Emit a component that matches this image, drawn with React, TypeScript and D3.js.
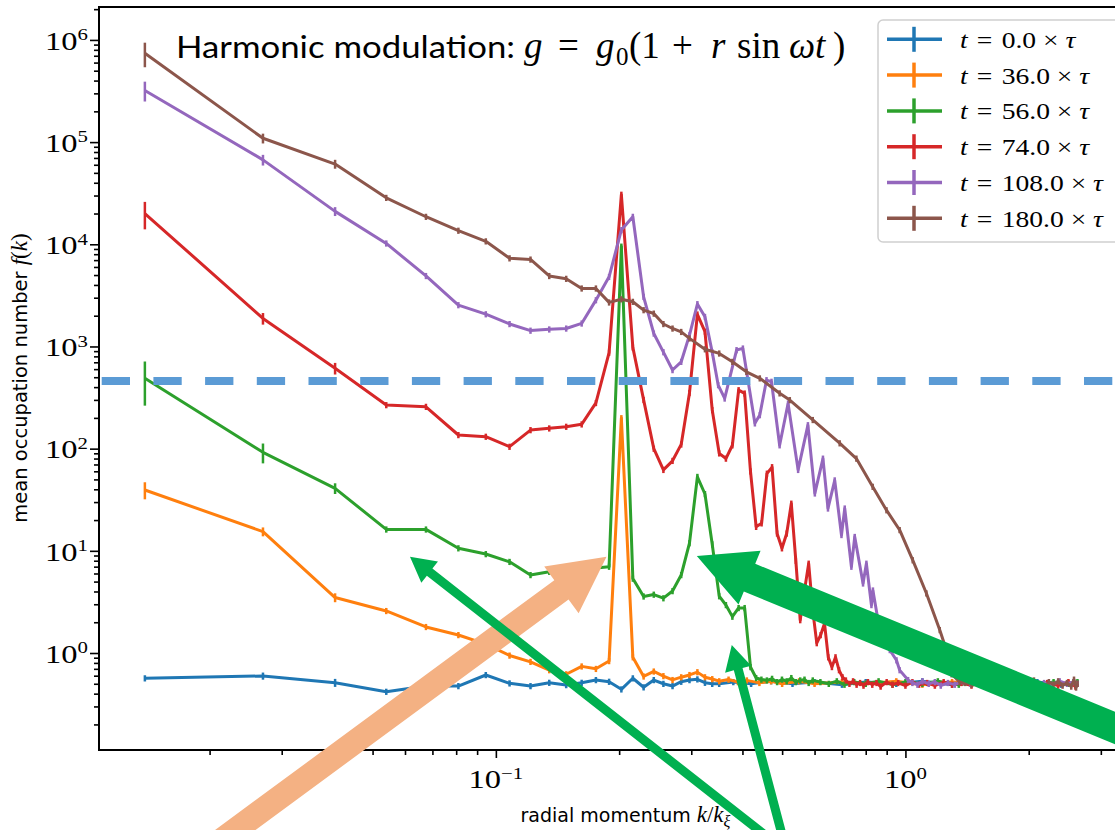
import React, { useEffect, useRef } from 'react';
import * as d3 from 'd3';

// occupation number f(k) vs radial momentum k, log-log
type Pt = [number, number];

const fT0: Pt[] = [
  [0.0139, 0.566], [0.027, 0.596], [0.0405, 0.512], [0.054, 0.418], [0.0675, 0.475], [0.081, 0.475],
  [0.0945, 0.609], [0.108, 0.505], [0.1215, 0.475], [0.135, 0.512], [0.1485, 0.486], [0.162, 0.512],
  [0.1755, 0.544], [0.189, 0.524], [0.2025, 0.441], [0.216, 0.566], [0.2295, 0.462], [0.243, 0.544],
  [0.2565, 0.5], [0.27, 0.475], [0.2835, 0.524], [0.297, 0.544], [0.3105, 0.553], [0.324, 0.512],
  [0.3375, 0.5], [0.351, 0.5], [0.38, 0.52], [0.42, 0.5], [0.47, 0.53], [0.53, 0.5], [0.6, 0.52],
  [0.7, 0.49], [0.8, 0.52], [0.95, 0.5], [1.1, 0.53], [1.3, 0.49], [1.5, 0.52], [1.8, 0.5],
  [2.1, 0.52], [2.4, 0.49], [2.63, 0.51],
];
const fT36: Pt[] = [
  [0.0139, 39.4], [0.027, 15.4], [0.0405, 3.49], [0.054, 2.58], [0.0675, 1.8], [0.081, 1.5],
  [0.0945, 1.22], [0.108, 0.945], [0.1215, 0.82], [0.135, 0.68], [0.1485, 0.62], [0.162, 0.74],
  [0.1755, 0.7], [0.189, 0.835], [0.2025, 199], [0.216, 0.91], [0.2295, 0.59], [0.243, 0.66],
  [0.2565, 0.595], [0.27, 0.545], [0.2835, 0.58], [0.297, 0.61], [0.3105, 0.65], [0.324, 0.58],
  [0.3375, 0.556], [0.351, 0.53], [0.37, 0.55], [0.39, 0.52], [0.41, 0.54], [0.44, 0.51],
  [0.47, 0.53], [0.5, 0.5], [0.55, 0.53], [0.6, 0.5], [0.7, 0.52], [0.8, 0.5], [0.95, 0.53],
  [1.1, 0.49], [1.3, 0.52], [1.6, 0.5], [1.9, 0.52], [2.2, 0.49], [2.5, 0.51], [2.63, 0.5],
];
const fT56: Pt[] = [
  [0.0139, 488], [0.027, 92], [0.0405, 40.9], [0.054, 16.2], [0.0675, 16.2], [0.081, 10.6],
  [0.0945, 9.3], [0.108, 7.8], [0.1215, 5.8], [0.135, 6.25], [0.1485, 6.5], [0.162, 6.7],
  [0.1755, 6.8], [0.189, 7.0], [0.2025, 9500], [0.216, 5.35], [0.2295, 3.58], [0.243, 3.73],
  [0.2565, 3.44], [0.27, 4.04], [0.2835, 5.8], [0.297, 11.9], [0.3105, 53], [0.324, 36],
  [0.3375, 11.6], [0.351, 3.6], [0.3645, 2.95], [0.378, 2.27], [0.3915, 2.76], [0.405, 2.76],
  [0.4185, 0.73], [0.432, 0.57], [0.445, 0.55], [0.459, 0.54], [0.4725, 0.56], [0.486, 0.52],
  [0.4995, 0.55], [0.513, 0.53], [0.5265, 0.57], [0.54, 0.52], [0.5535, 0.54], [0.567, 0.55],
  [0.5805, 0.51], [0.594, 0.54], [0.62, 0.52], [0.65, 0.5], [0.68, 0.53], [0.71, 0.49],
  [0.75, 0.52], [0.8, 0.5], [0.86, 0.53], [0.93, 0.49], [1.0, 0.52], [1.1, 0.5], [1.2, 0.53],
  [1.35, 0.49], [1.5, 0.52], [1.7, 0.5], [1.9, 0.53], [2.1, 0.49], [2.3, 0.52], [2.5, 0.5], [2.63, 0.52],
];
const fT74: Pt[] = [
  [0.0139, 20000], [0.027, 1880], [0.0405, 611], [0.054, 267], [0.0675, 257], [0.081, 136],
  [0.0945, 131], [0.108, 104.5], [0.1215, 152], [0.135, 158], [0.1485, 164], [0.162, 173],
  [0.1755, 280], [0.189, 870], [0.2025, 30600], [0.216, 980], [0.2295, 300], [0.243, 100],
  [0.2565, 62], [0.27, 76], [0.2835, 110], [0.297, 351], [0.3105, 2060], [0.324, 1400],
  [0.3375, 239], [0.351, 90], [0.3645, 80], [0.378, 108], [0.3915, 374], [0.405, 347],
  [0.4185, 60], [0.432, 17.2], [0.4455, 18.6], [0.459, 57], [0.4725, 66], [0.486, 14.8],
  [0.4995, 10.6], [0.513, 14.8], [0.5265, 29], [0.54, 8], [0.5535, 2.1], [0.567, 4.1],
  [0.5805, 7.5], [0.594, 2.6], [0.6075, 1.25], [0.621, 1.5], [0.6345, 1.95], [0.648, 0.91],
  [0.6615, 0.73], [0.675, 0.91], [0.6885, 0.68], [0.702, 0.58], [0.7155, 0.54],
  [0.73, 0.5], [0.745, 0.53], [0.76, 0.49], [0.775, 0.51], [0.79, 0.48], [0.81, 0.52], [0.83, 0.49],
  [0.85, 0.51], [0.87, 0.47], [0.9, 0.52], [0.93, 0.49], [0.96, 0.51], [1.0, 0.48], [1.04, 0.52],
  [1.08, 0.49], [1.13, 0.51], [1.18, 0.48], [1.24, 0.52], [1.3, 0.49], [1.37, 0.51], [1.45, 0.48],
  [1.53, 0.52], [1.62, 0.49], [1.72, 0.51], [1.83, 0.48], [1.95, 0.52], [2.08, 0.49], [2.22, 0.51],
  [2.36, 0.48], [2.5, 0.52], [2.6, 0.47], [2.63, 0.5],
];
const fT108: Pt[] = [
  [0.0139, 320000], [0.027, 67000], [0.0405, 21000], [0.054, 10200], [0.0675, 4900], [0.081, 2540],
  [0.0945, 2070], [0.108, 1660], [0.1215, 1430], [0.135, 1470], [0.1485, 1500], [0.162, 1680],
  [0.1755, 2840], [0.189, 4800], [0.2025, 13800], [0.216, 18600], [0.2295, 3060], [0.243, 1340],
  [0.2565, 881], [0.27, 588], [0.2835, 708], [0.297, 1290], [0.3105, 2600], [0.324, 1950],
  [0.3375, 880], [0.349, 419], [0.362, 310], [0.387, 922], [0.401, 957], [0.429, 177],
  [0.441, 213], [0.458, 469], [0.471, 452], [0.493, 108], [0.517, 277], [0.547, 62],
  [0.578, 170], [0.601, 36.5], [0.629, 80], [0.647, 26], [0.672, 49], [0.698, 14.3],
  [0.711, 26], [0.738, 7.0], [0.752, 13.7], [0.788, 4.8], [0.803, 7.5], [0.826, 2.95],
  [0.833, 4.1], [0.857, 2.1], [0.874, 2.1], [0.916, 1.07], [0.951, 0.85], [0.968, 0.68],
  [1.015, 0.545], [1.04, 0.51], [1.07, 0.49], [1.1, 0.53], [1.14, 0.5], [1.18, 0.52], [1.22, 0.48],
  [1.27, 0.51], [1.32, 0.49], [1.38, 0.53], [1.44, 0.5], [1.5, 0.52], [1.57, 0.48], [1.64, 0.51],
  [1.72, 0.49], [1.8, 0.53], [1.89, 0.5], [1.98, 0.52], [2.08, 0.48], [2.18, 0.51], [2.28, 0.49],
  [2.38, 0.53], [2.48, 0.5], [2.57, 0.52], [2.63, 0.5],
];
const fT180: Pt[] = [
  [0.0139, 740000], [0.027, 109000], [0.0405, 61000], [0.054, 28500], [0.0675, 18600], [0.081, 13600],
  [0.0945, 10700], [0.108, 7300], [0.1215, 7100], [0.135, 4900], [0.1485, 4600], [0.162, 3700],
  [0.1755, 3700], [0.189, 2700], [0.2025, 2900], [0.216, 2740], [0.2295, 2270], [0.243, 2100],
  [0.2565, 1660], [0.27, 1500], [0.2835, 1390], [0.297, 1200], [0.324, 940], [0.351, 855],
  [0.378, 708], [0.409, 565], [0.441, 488], [0.493, 348], [0.522, 299], [0.594, 191],
  [0.691, 113], [0.759, 80], [0.832, 42.4], [0.899, 25], [0.968, 16], [1.042, 8.1],
  [1.125, 3.84], [1.213, 1.68], [1.259, 1.07], [1.297, 0.62], [1.357, 0.52],
  [1.4, 0.51], [1.45, 0.49], [1.5, 0.53], [1.55, 0.5], [1.6, 0.48], [1.65, 0.52], [1.7, 0.5],
  [1.76, 0.47], [1.82, 0.53], [1.88, 0.49], [1.94, 0.51], [2.0, 0.48], [2.06, 0.54], [2.12, 0.5],
  [2.18, 0.47], [2.24, 0.52], [2.3, 0.49], [2.36, 0.53], [2.42, 0.48], [2.48, 0.51], [2.54, 0.47],
  [2.58, 0.55], [2.61, 0.46], [2.63, 0.5],
];

// relative error of the first points; the rest use DEFAULT_SIG
const DEFAULT_SIG = 0.07;
const sigT0 = [0.07, 0.08, 0.09];
const sigT36 = [0.19, 0.1, 0.1];
const sigT56 = [0.46, 0.22, 0.12];
const sigT74 = [0.3, 0.13, 0.13];
const sigT108 = [0.22, 0.12, 0.1];
const sigT180 = [0.27, 0.11, 0.1];

const labels = ['0.0', '36.0', '56.0', '74.0', '108.0', '180.0'];
const colors = ['#1f77b4', '#ff7f0e', '#2ca02c', '#d62728', '#9467bd', '#8c564b'];
const curves = [fT0, fT36, fT56, fT74, fT108, fT180];
const sigs = [sigT0, sigT36, sigT56, sigT74, sigT108, sigT180];

const thresholdLevel = 460; // dashed horizontal line

// arrows in data coordinates: tail -> tip
const arrows = [
  { tail: [0.0206, 0.0132], tip: [0.1863, 8.76], shaft: 24, headW: 58, headL: 56, color: '#f4b183' },
  { tail: [0.488, 0.0132], tip: [0.0617, 8.76], shaft: 9, headW: 27, headL: 25, color: '#00b050' },
  { tail: [0.5075, 0.0132], tip: [0.3767, 1.197], shaft: 9, headW: 27, headL: 25, color: '#00b050' },
  { tail: [3.73, 0.147], tip: [0.3095, 8.9], shaft: 30, headW: 58, headL: 57, color: '#00b050' },
];

// title formula pieces: [text, x, italic, size, dy]
const formula: [string, number, boolean, number, number][] = [
  ['g', 524, true, 37, 0], ['=', 558, false, 37, 0], ['g', 596, true, 37, 0], ['0', 616, false, 25, 7],
  ['(1', 629, false, 37, 0], ['+', 672, false, 37, 0], ['r', 711, true, 37, 0], ['sin', 737, false, 37, 0],
  ['\u03c9t', 789, true, 37, 0], [')', 833, false, 37, 0],
];

const serif = "'Liberation Serif', 'DejaVu Serif', serif";
const sans = "'DejaVu Sans', sans-serif";

export default function App() {
  const svgRef = useRef<SVGSVGElement>(null);

  useEffect(() => {
    document.body.style.margin = '0';
    const svg = d3.select(svgRef.current);
    svg.selectAll('*').remove();

    const left = 99, top = 7, bottom = 750, right = 1152;
    const x = d3.scaleLog().domain([0.01074, 4]).range([left, right]);
    const y = d3.scaleLog().domain([0.1124, 2.1e6]).range([bottom, top]);

    svg.append('rect').attr('width', 1115).attr('height', 830).attr('fill', '#fff');

    svg.append('clipPath').attr('id', 'plot-clip')
      .append('rect').attr('x', left).attr('y', top).attr('width', right - left).attr('height', bottom - top);

    const plot = svg.append('g').attr('clip-path', 'url(#plot-clip)');
    const line = d3.line<Pt>().x((d) => x(d[0])).y((d) => y(d[1]));

    curves.forEach((pts, i) => {
      const g = plot.append('g');
      g.append('path')
        .attr('d', line(pts))
        .attr('fill', 'none')
        .attr('stroke', colors[i])
        .attr('stroke-width', 3)
        .attr('stroke-linejoin', 'round');
      g.selectAll('line')
        .data(pts)
        .join('line')
        .attr('x1', (d) => x(d[0]))
        .attr('x2', (d) => x(d[0]))
        .attr('y1', (d, j) => y(d[1] * (1 + (sigs[i][j] ?? DEFAULT_SIG))))
        .attr('y2', (d, j) => y(d[1] * (1 - (sigs[i][j] ?? DEFAULT_SIG))))
        .attr('stroke', colors[i])
        .attr('stroke-width', 2.5);
    });

    // ticks
    const majorY = d3.range(0, 7).map((e) => Math.pow(10, e));
    const minorY = d3.range(-1, 7).flatMap((e) => d3.range(2, 10).map((m) => m * Math.pow(10, e)))
      .filter((v) => v > y.domain()[0] && v < y.domain()[1]);
    const majorX = [0.1, 1];
    const minorX = d3.range(-2, 1).flatMap((e) => d3.range(2, 10).map((m) => m * Math.pow(10, e)))
      .filter((v) => v > x.domain()[0] && v < x.domain()[1]);

    const axes = svg.append('g');
    const yMaj = axes.append('g').attr('transform', `translate(${left},0)`)
      .call(d3.axisLeft(y).tickValues(majorY).tickSize(9).tickFormat(() => ''));
    const yMin = axes.append('g').attr('transform', `translate(${left},0)`)
      .call(d3.axisLeft(y).tickValues(minorY).tickSize(5).tickFormat(() => ''));
    const xMaj = axes.append('g').attr('transform', `translate(0,${bottom})`)
      .call(d3.axisBottom(x).tickValues(majorX).tickSize(8).tickFormat(() => ''));
    const xMin = axes.append('g').attr('transform', `translate(0,${bottom})`)
      .call(d3.axisBottom(x).tickValues(minorX).tickSize(5).tickFormat(() => ''));
    [yMaj, yMin, xMaj, xMin].forEach((a) => {
      a.select('.domain').remove();
      a.selectAll('line').attr('stroke', '#000').attr('stroke-width', 1.6);
    });

    // spines
    axes.append('line').attr('x1', left).attr('x2', left).attr('y1', top).attr('y2', bottom)
      .attr('stroke', '#000').attr('stroke-width', 2);
    axes.append('line').attr('x1', left - 1).attr('x2', 1115).attr('y1', bottom).attr('y2', bottom)
      .attr('stroke', '#000').attr('stroke-width', 2);
    axes.append('line').attr('x1', left - 1).attr('x2', 1115).attr('y1', top).attr('y2', top)
      .attr('stroke', '#000').attr('stroke-width', 2);

    // tick labels 10^n
    majorY.forEach((v, i) => {
      const t = axes.append('g').attr('transform', `translate(88,${y(v) + 9.8}) scale(1.3,1)`)
        .append('text').attr('text-anchor', 'end').attr('font-family', serif).attr('font-size', 25);
      t.append('tspan').text('10');
      t.append('tspan').attr('dy', -9.5).attr('font-size', 16).text(String(i));
    });
    majorX.forEach((v) => {
      const t = axes.append('g').attr('transform', `translate(${x(v)},788) scale(1.3,1)`)
        .append('text').attr('text-anchor', 'middle').attr('font-family', serif).attr('font-size', 25);
      t.append('tspan').text('10');
      t.append('tspan').attr('dy', -9.5).attr('font-size', 16).text(v < 1 ? '\u22121' : '0');
    });

    // axis labels
    const xl = axes.append('text').attr('x', (left + right) / 2).attr('y', 822)
      .attr('text-anchor', 'middle').attr('font-family', sans).attr('font-size', 19);
    xl.append('tspan').text('radial momentum ');
    xl.append('tspan').attr('font-family', serif).attr('font-style', 'italic').attr('font-size', 23).text('k');
    xl.append('tspan').attr('font-family', serif).attr('font-size', 23).text('/');
    xl.append('tspan').attr('font-family', serif).attr('font-style', 'italic').attr('font-size', 23).text('k');
    xl.append('tspan').attr('font-family', serif).attr('font-style', 'italic').attr('font-size', 16).attr('dy', 5).text('\u03be');

    const yl = axes.append('text').attr('transform', 'translate(27,378) rotate(-90)')
      .attr('text-anchor', 'middle').attr('font-family', sans).attr('font-size', 19.5);
    yl.append('tspan').text('mean occupation number ');
    yl.append('tspan').attr('font-family', serif).attr('font-style', 'italic').attr('font-size', 23).text('f');
    yl.append('tspan').attr('font-family', serif).attr('font-size', 23).text('(');
    yl.append('tspan').attr('font-family', serif).attr('font-style', 'italic').attr('font-size', 23).text('k');
    yl.append('tspan').attr('font-family', serif).attr('font-size', 23).text(')');

    // legend
    const lg = svg.append('g');
    lg.append('rect').attr('x', 878).attr('y', 20).attr('width', 260).attr('height', 222).attr('rx', 5)
      .attr('fill', '#fff').attr('fill-opacity', 0.85).attr('stroke', '#d0d0d0').attr('stroke-width', 1.5);
    labels.forEach((lab, i) => {
      const cy = 39.3 + i * 35.8;
      lg.append('line').attr('x1', 887).attr('x2', 942).attr('y1', cy).attr('y2', cy)
        .attr('stroke', colors[i]).attr('stroke-width', 3.5);
      lg.append('line').attr('x1', 914).attr('x2', 914).attr('y1', cy - 12.5).attr('y2', cy + 12.5)
        .attr('stroke', colors[i]).attr('stroke-width', 3.5);
      const t = lg.append('g').attr('transform', `translate(960,${cy + 8.5}) scale(1.15,1)`)
        .append('text').attr('font-family', serif).attr('font-size', 24);
      t.append('tspan').attr('font-style', 'italic').text('t');
      t.append('tspan').attr('dx', 8).text('=');
      t.append('tspan').attr('dx', 8).text(lab);
      t.append('tspan').attr('dx', 6).text('\u00d7');
      t.append('tspan').attr('dx', 6).attr('font-style', 'italic').text('\u03c4');
    });

    // dashed threshold line
    svg.append('line').attr('x1', 101.7).attr('x2', 1115)
      .attr('y1', y(thresholdLevel)).attr('y2', y(thresholdLevel))
      .attr('stroke', '#5b9bd5').attr('stroke-width', 8).attr('stroke-dasharray', '28.3,23.4');

    // title
    svg.append('text').attr('x', 176).attr('y', 58).attr('font-family', "Lato, 'Open Sans', sans-serif")
      .attr('font-size', 31).attr('textLength', 339).attr('lengthAdjust', 'spacingAndGlyphs')
      .text('Harmonic modulation:');
    formula.forEach(([txt, px, it, size, dy]) => {
      svg.append('text').attr('x', px).attr('y', 58 + dy).attr('font-family', serif)
        .attr('font-size', size).attr('font-style', it ? 'italic' : 'normal').text(txt);
    });

    // arrows
    arrows.forEach((a) => {
      const tx = x(a.tail[0]), ty = y(a.tail[1]);
      const px = x(a.tip[0]), py = y(a.tip[1]);
      const len = Math.hypot(px - tx, py - ty);
      const ux = (px - tx) / len, uy = (py - ty) / len;
      const nx = -uy, ny = ux;
      const bx = px - ux * a.headL, by = py - uy * a.headL;
      const s = a.shaft / 2, h = a.headW / 2;
      const poly: [number, number][] = [
        [tx + nx * s, ty + ny * s], [bx + nx * s, by + ny * s], [bx + nx * h, by + ny * h],
        [px, py], [bx - nx * h, by - ny * h], [bx - nx * s, by - ny * s], [tx - nx * s, ty - ny * s],
      ];
      svg.append('polygon').attr('points', poly.map((p) => p.join(',')).join(' ')).attr('fill', a.color);
    });
  }, []);

  return <svg ref={svgRef} width={1115} height={830} style={{ display: 'block' }} />;
}
